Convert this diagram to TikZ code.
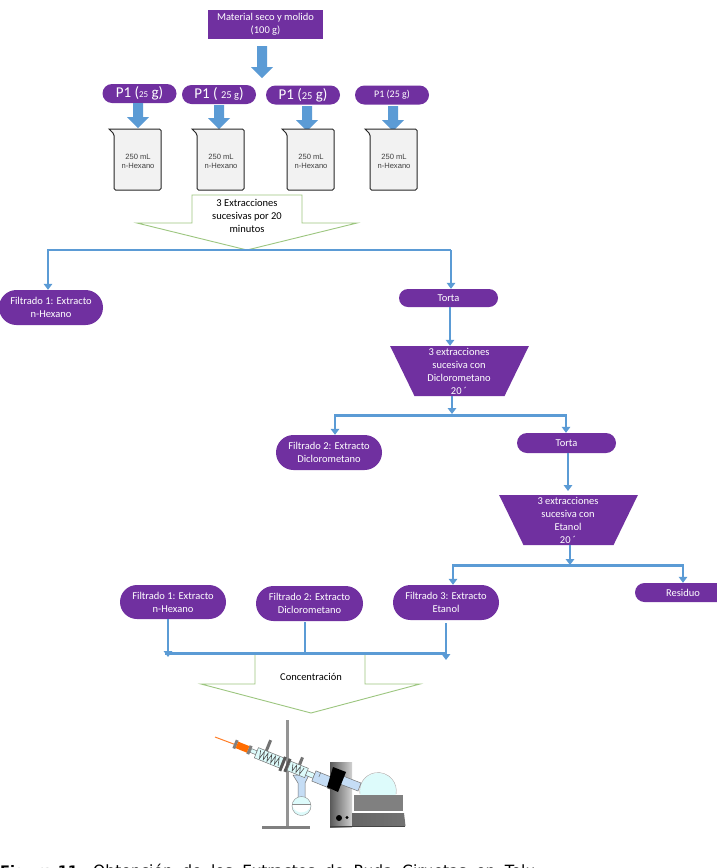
\documentclass[tikz,border=0pt]{standalone}
\usepackage{fontspec}
\setmainfont{Carlito}
\newfontfamily\arialfont{Liberation Sans}
\newfontfamily\verdanafont{DejaVu Sans}
\usetikzlibrary{arrows.meta,shapes.misc,shapes.geometric,calc}
\definecolor{grape}{HTML}{7030A0}
\definecolor{flow}{HTML}{5B9BD5}
\definecolor{leaf}{HTML}{9CC67F}
\definecolor{paleice}{HTML}{DDFBFB}
\definecolor{paleblue}{HTML}{C5DDF5}
\tikzset{
  x=1pt,y=-1pt,
  pill/.style={rounded rectangle,fill=grape,text=white,align=center,inner sep=0pt,font=\fontsize{10.5}{13}\selectfont},
  portion/.style={pill,minimum width=74pt,minimum height=19pt,font=\fontsize{15}{15}\selectfont},
  hopper/.style={trapezium,trapezium stretches=true,shape border rotate=180,trapezium angle=61.6,fill=grape,inner sep=0pt,minimum width=139pt,minimum height=50pt},
  wire/.style={flow,line width=2.8pt},
  link/.style={flow,line width=2.8pt,-{Triangle[length=6pt,width=8.5pt]}},
  beaker/.style={draw=black!85,fill=black!5,line width=1pt,rounded corners=1.5pt},
  callout/.style={draw=leaf,fill=white,line width=.9pt},
  tag/.style={align=center,inner sep=0pt,font=\fontsize{10.5}{13}\selectfont},
  glasspart/.style={draw=black!55,line width=.5pt,fill=paleice},
}
% block arrow pointing down; #1 = centre x, #2 = top y, #3 = tip y
\newcommand{\blockdown}[3]{%
  \fill[flow] (#1-5,#2) -- (#1+5,#2) -- (#1+5,#3-11) -- (#1+11,#3-11) -- (#1,#3) -- (#1-11,#3-11) -- (#1-5,#3-11) -- cycle;}
% beaker outline; #1 = node name, #2 = left x of the body
\newcommand{\glass}[2]{%
  \draw[beaker] (#2-5,129) -- (#2+47,129) -- (#2+47,190) -- (#2,190) -- (#2,134) [sharp corners] -- cycle;
  \node[font=\arialfont\fontsize{7.6}{9}\selectfont,align=center,text=black!75] (#1) at (#2+24,161.5) {250 mL\\n-Hexano};}
\begin{document}
\begin{tikzpicture}
\useasboundingbox (0,0) rectangle (716,868);
\fill[white] (0,0) rectangle (716,868);

% starting material
\node[fill=grape,text=white,tag,minimum width=115pt,minimum height=29pt] (mat) at (265.5,24.5) {Material seco y molido\\(100 g)};
\blockdown{262}{46}{78}

% portions
\node[portion] (p1) at (139.5,93.5) {P1 ({\fontsize{9}{9}\selectfont 25} g)};
\node[portion] (p2) at (219,94.5) {P1 ( {\fontsize{10.5}{10.5}\selectfont 25 g})};
\node[portion] (p3) at (303,95) {P1 ({\fontsize{10.5}{10.5}\selectfont 25} g)};
\node[portion,font=\fontsize{10}{10}\selectfont] (p4) at (392,95) {P1 (25 g)};

\blockdown{138}{103}{128}
\blockdown{219}{105}{129}
\blockdown{307}{106}{131}
\blockdown{393}{106}{131}

\glass{b1}{114}
\glass{b2}{197}
\glass{b3}{287}
\glass{b4}{370}

% first extraction callout
\draw[callout] (192,223) -- (192,195) -- (302,195) -- (302,223) -- (357,223) -- (247,250) -- (137,223) -- cycle;
\node[tag] (ext) at (247,216) {3 Extracciones\\sucesivas por 20\\minutos};

% first split
\node[pill,minimum width=104pt,minimum height=35pt] (f1) at (51,307.5) {Filtrado 1: Extracto\\n-Hexano};
\node[pill,minimum width=99pt,minimum height=18pt] (t1) at (448.5,298) {Torta};
\draw[wire] (47,250) -- (451,250);
\draw[link] (48,250) -- (f1.north -| 48,0);
\draw[link] (451,250) -- (t1.north -| 451,0);

% dichloromethane stage
\node[hopper] (d) at (459.5,371) {\phantom{\rule{20pt}{10pt}}};
\node[tag,text=white] (dt) at (459,371.5) {3 extracciones\\sucesiva con\\Diclorometano\\20 ´};
\draw[link] (t1.south -| 450,0) -- (d.north -| 450,0);
\node[pill,minimum width=106pt,minimum height=35pt] (f2) at (329,452.5) {Filtrado 2: Extracto\\Diclorometano};
\node[pill,minimum width=99pt,minimum height=20pt] (t2) at (566.5,443) {Torta};
\coordinate (j2) at (452,414);
\draw[link] (d.south -| 452,0) -- (j2);
\draw[wire] (334,415.5) -- (567,415.5);
\draw[link] (335,415.5) -- (f2.north -| 335,0);
\draw[link] (566,415.5) -- (t2.north -| 566,0);

% ethanol stage
\node[hopper] (e) at (568.5,520) {\phantom{\rule{20pt}{10pt}}};
\node[tag,text=white] (et) at (568,520.5) {3 extracciones\\sucesiva con\\Etanol\\20 ´};
\coordinate (eIn) at (568,491);
\draw[link] (t2.south -| 568,0) -- (eIn);
\node[pill,minimum width=106pt,minimum height=35pt] (f3) at (446,602.5) {Filtrado 3: Extracto\\Etanol};
\node[pill,minimum width=96pt,minimum height=19pt] (res) at (683,592.5) {Residuo};
\coordinate (j3) at (570,565);
\draw[link] (e.south -| 570,0) -- (j3);
\draw[wire] (452,565.7) -- (684,565.7);
\draw[link] (453,565.7) -- (f3.north -| 453,0);
\draw[link] (683,565.7) -- (res.north -| 683,0);

% collecting the three filtrates
\node[pill,minimum width=106pt,minimum height=34pt] (g1) at (173,602) {Filtrado 1: Extracto\\n-Hexano};
\node[pill,minimum width=107pt,minimum height=35pt] (g2) at (309.5,603.5) {Filtrado 2: Extracto\\Diclorometano};
\draw[callout] (255,654) -- (255,684) -- (201,684) -- (311,713) -- (420,684) -- (365,684) -- (365,654) -- cycle;
\draw[wire] (165,653.7) -- (447,653.7);
\coordinate (c1) at (168,657);
\coordinate (c2) at (305,653.7);
\coordinate (c3) at (446,660);
\draw[link] (g1.south -| 168,0) -- (c1);
\draw[wire] (305,622) -- (c2);
\draw[link] (446,623) -- (c3);
\node[tag] (conc) at (311,677) {Concentración};

% rotary evaporator: support stand
\fill[black!42] (286,720) rectangle (289,827);
\fill[black!50] (262,826) rectangle (310,829);

% receiving flask below the condenser
\draw[glasspart,fill=paleblue] (293,775) -- (309,775) -- (305,783) -- (305,798) -- (298,798) -- (298,783) -- cycle;
\fill[paleice] (301.5,806) circle (9.5pt);
\fill[white] (292.2,804.5) -- (310.8,804.5) arc[start angle=-9,end angle=-171,radius=9.4pt];
\draw[black!45,line width=.4pt] (301.5,806) circle (9.5pt);
\draw[black!45,line width=.4pt] (292.1,804.5) -- (310.9,804.5);

% feed needle and glassware along the tilted axis
\draw[orange!80!red!85!white,line width=1pt] (215,737) -- (235,744.5);
\begin{scope}[shift={(236,744.5)},rotate=-22]
  \fill[black!50] (-2,-4.5) rectangle (1,4.5) (13,-4.5) rectangle (16,4.5);
  \fill[orange!85!red] (1,-3.5) rectangle (13,3.5);
  \draw[glasspart] (16,-2) rectangle (22,2);
  \draw[glasspart] (22,-5.5) rectangle (50,5.5);
  \draw[black!70,line width=.6pt] (25,-4) -- (27,4) -- (29,-4) -- (31,4) -- (33,-4) -- (35,4) -- (37,-4) -- (39,4) -- (41,-4) -- (43,4) -- (45,-4) -- (47,4);
  \fill[black!65] (49,-7) rectangle (52,8) (54,-7) rectangle (57,7);
  \draw[glasspart] (57,-5) rectangle (76,5);
  \draw[black!70,line width=.6pt] (60,-3.5) -- (62,3.5) -- (64,-3.5) -- (66,3.5) -- (68,-3.5) -- (70,3.5) -- (72,-3.5);
  \draw[glasspart] (76,-2.5) rectangle (84,2.5);
  \draw[glasspart,fill=paleblue] (84,-5.5) rectangle (103,5.5);
  \draw[black!60,line width=.5pt] (89,-5.5) -- (89,-1);
  \fill[black!60] (101,-6.5) rectangle (104,6.5);
  % clamps on the coils
  \fill[black!55] (29,-17) -- (32,-17) -- (32,-5.5) -- (29,-5.5) -- cycle;
  \fill[black!55] (65,-13) -- (68,-13) -- (68,-5) -- (65,-5) -- cycle;
\end{scope}

% rotary evaporator: heating bath and flask
\fill[paleice] (378,791) circle (18pt);
\draw[black!35,line width=.4pt] (360,794) arc[start angle=190,end angle=-10,radius=18.3pt];
\fill[white] (350,795) rectangle (410,812);
\fill[black!50] (354,795) rectangle (403,811);
\shade[left color=black!65,right color=black!18] (330,762) rectangle (352,827);
\fill[black!75] (330,825.5) rectangle (405,827);
\shade[left color=black!60,middle color=black!8,right color=black!55] (352,813) -- (404,813) -- (405.5,826) -- (352,826) -- cycle;
\fill[black] (339,818) circle (3pt) (347,817.5) circle (1.7pt);

% motor housing and vapour duct
\draw[glasspart,fill=paleblue] (343,776) -- (361,783) -- (358,791) -- (340,784) -- cycle;
\fill[black] (333,767) -- (346,772) -- (338,792) -- (327,787) -- cycle;

% caption, running off the lower edge of the page
\node[anchor=base west,inner sep=0pt,font=\verdanafont\bfseries\fontsize{14.5}{16}\selectfont] (cap) at (0,876) {Figura 11.};
\node[anchor=base west,inner sep=0pt,font=\verdanafont\fontsize{15.5}{16}\selectfont] (cap2) at (cap.base east) {\spaceskip=9.4pt ~Obtención de los Extractos de Ruda Ciruetas en Tolu};
\end{tikzpicture}
\end{document}
